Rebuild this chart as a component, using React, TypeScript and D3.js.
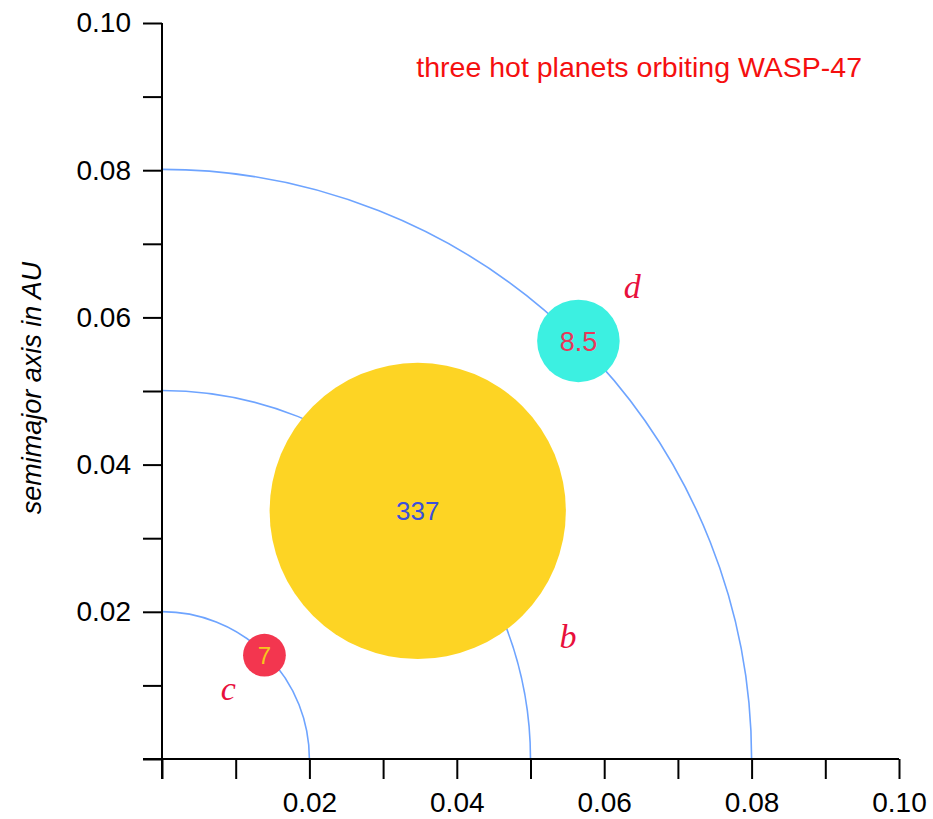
import { useEffect, useRef } from "react";
import * as d3 from "d3";

// orbits (semimajor axis, AU)
const orbits = [0.02, 0.05, 0.08];

// planets: position in AU, drawn radius in AU units, label
const planetNames = ["c", "b", "d"];
const planetX = [0.0139, 0.0347, 0.0565];
const planetY = [0.0141, 0.0337, 0.0568];
const planetSize = [0.0029, 0.0201, 0.0056];
const planetLabels = ["7", "337", "8.5"];
const planetColors = ["#f3364f", "#fdd424", "#3cf0e1"];
const labelColors = ["#f7c61c", "#3b4fdc", "#e8385a"];

// name tags next to planets (AU)
const tagX = [0.009, 0.0551, 0.0638];
const tagY = [0.008, 0.0151, 0.0626];

const ticks = [0, 0.01, 0.02, 0.03, 0.04, 0.05, 0.06, 0.07, 0.08, 0.09, 0.1];
const labelledTicks = [0.02, 0.04, 0.06, 0.08, 0.1];

export default function App() {
  const ref = useRef<SVGSVGElement>(null);

  useEffect(() => {
    if (!ref.current) return;
    const svg = d3.select(ref.current);
    svg.selectAll("*").remove();

    const x = d3.scaleLinear().domain([0, 0.1]).range([162, 899]);
    const y = d3.scaleLinear().domain([0, 0.1]).range([759, 23]);

    const fmt = (d: d3.NumberValue) =>
      labelledTicks.some((t) => Math.abs(t - +d) < 1e-9) ? d3.format(".2f")(+d) : "";

    // orbits
    const arc = d3.arc<number>()
      .innerRadius((r) => x(r) - x(0))
      .outerRadius((r) => x(r) - x(0))
      .startAngle(0)
      .endAngle(Math.PI / 2);

    svg.append("g")
      .attr("transform", `translate(${x(0)},${y(0)})`)
      .selectAll("path")
      .data(orbits)
      .join("path")
      .attr("d", arc)
      .attr("fill", "none")
      .attr("stroke", "#6ea4ff")
      .attr("stroke-width", 1.6);

    // axes
    const xAxis = svg.append("g")
      .attr("transform", `translate(0,${y(0)})`)
      .call(d3.axisBottom(x).tickValues(ticks).tickFormat(fmt).tickSize(20).tickSizeOuter(0).tickPadding(13));
    const yAxis = svg.append("g")
      .attr("transform", `translate(${x(0)},0)`)
      .call(d3.axisLeft(y).tickValues(ticks).tickFormat(fmt).tickSize(19).tickSizeOuter(0).tickPadding(12));

    [xAxis, yAxis].forEach((g) => {
      g.attr("font-size", 28).attr("font-family", "Liberation Sans, Arial, sans-serif");
      g.select(".domain").attr("stroke", "#000").attr("stroke-width", 2);
      g.selectAll(".tick line").attr("stroke", "#000").attr("stroke-width", 2);
      g.selectAll(".tick text").attr("fill", "#000");
    });
    xAxis.select(".domain").attr("d", `M${x(0) - 19},0H${x(0.1)}`);
    yAxis.select(".domain").attr("d", `M0,${y(0) + 20}V${y(0.1)}`);

    // planets
    const idx = d3.range(planetNames.length);
    svg.append("g")
      .selectAll("circle")
      .data(idx)
      .join("circle")
      .attr("cx", (i) => x(planetX[i]))
      .attr("cy", (i) => y(planetY[i]))
      .attr("r", (i) => x(planetSize[i]) - x(0))
      .attr("fill", (i) => planetColors[i]);

    svg.append("g")
      .selectAll("text")
      .data(idx)
      .join("text")
      .attr("x", (i) => x(planetX[i]))
      .attr("y", (i) => y(planetY[i]))
      .attr("dy", "0.36em")
      .attr("text-anchor", "middle")
      .attr("font-family", "Liberation Sans, Arial, sans-serif")
      .attr("font-size", (i) => (i === 0 ? 24 : i === 1 ? 26 : 27))
      .attr("fill", (i) => labelColors[i])
      .text((i) => planetLabels[i]);

    svg.append("g")
      .selectAll("text")
      .data(idx)
      .join("text")
      .attr("x", (i) => x(tagX[i]))
      .attr("y", (i) => y(tagY[i]))
      .attr("text-anchor", "middle")
      .attr("font-family", "Liberation Serif, Times New Roman, serif")
      .attr("font-style", "italic")
      .attr("font-size", 34)
      .attr("fill", "#e8103c")
      .text((i) => planetNames[i]);

    // title
    svg.append("text")
      .attr("x", 862)
      .attr("y", 77)
      .attr("text-anchor", "end")
      .attr("font-family", "Liberation Sans, Arial, sans-serif")
      .attr("font-size", 28.5)
      .attr("fill", "#f50f0f")
      .text("three hot planets orbiting WASP-47");

    // y label
    svg.append("text")
      .attr("transform", `translate(41,388) rotate(-90)`)
      .attr("text-anchor", "middle")
      .attr("font-family", "Liberation Sans, Arial, sans-serif")
      .attr("font-style", "italic")
      .attr("font-size", 27)
      .attr("fill", "#000")
      .text("semimajor axis in AU");
  }, []);

  return (
    <svg
      ref={ref}
      width={933}
      height={819}
      style={{ position: "absolute", left: 0, top: 0, background: "#fff" }}
    />
  );
}
